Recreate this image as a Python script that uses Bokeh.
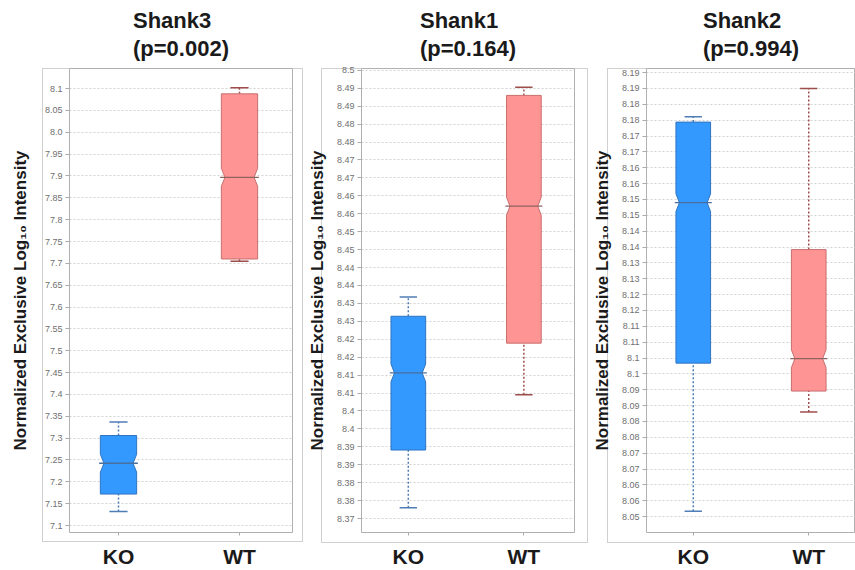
from bokeh.plotting import figure
from bokeh.models import Range1d, FixedTicker, ColumnDataSource
from bokeh.layouts import row
from bokeh.embed import file_html
from bokeh.resources import INLINE

# ---------------- data ----------------
categories = ["KO", "WT"]
y_title = "Normalized Exclusive Log\u2081\u2080 Intensity"

shank3_name = "Shank3"
shank3_p = "(p=0.002)"
shank3_low = [7.132, 7.705]
shank3_q1 = [7.172, 7.710]
shank3_median = [7.2425, 7.897]
shank3_q3 = [7.306, 8.088]
shank3_high = [7.337, 8.102]
shank3_notch = [0.0205, 0.0205]
shank3_ticks = [7.1, 7.15, 7.2, 7.25, 7.3, 7.35, 7.4, 7.45, 7.5, 7.55, 7.6,
                7.65, 7.7, 7.75, 7.8, 7.85, 7.9, 7.95, 8.0, 8.05, 8.1]
shank3_tick_labels = ["7.1", "7.15", "7.2", "7.25", "7.3", "7.35", "7.4", "7.45",
                      "7.5", "7.55", "7.6", "7.65", "7.7", "7.75", "7.8", "7.85",
                      "7.9", "7.95", "8.0", "8.05", "8.1"]
shank3_yrange = (7.084, 8.146)

shank1_name = "Shank1"
shank1_p = "(p=0.164)"
shank1_low = [8.378, 8.4095]
shank1_q1 = [8.3941, 8.4239]
shank1_median = [8.4156, 8.4621]
shank1_q3 = [8.4314, 8.4930]
shank1_high = [8.4368, 8.4953]
shank1_notch = [0.0025, 0.0025]
shank1_ticks = [8.375, 8.38, 8.385, 8.39, 8.395, 8.4, 8.405, 8.41, 8.415, 8.42,
                8.425, 8.43, 8.435, 8.44, 8.445, 8.45, 8.455, 8.46, 8.465, 8.47,
                8.475, 8.48, 8.485, 8.49, 8.495, 8.5]
shank1_tick_labels = ["8.37", "8.38", "8.38", "8.39", "8.39", "8.4", "8.4", "8.41",
                      "8.41", "8.42", "8.42", "8.43", "8.43", "8.44", "8.44", "8.45",
                      "8.45", "8.46", "8.46", "8.47", "8.47", "8.48", "8.48", "8.49",
                      "8.49", "8.5"]
shank1_yrange = (8.3711, 8.5005)

shank2_name = "Shank2"
shank2_p = "(p=0.994)"
shank2_low = [8.0517, 8.083]
shank2_q1 = [8.0984, 8.0896]
shank2_median = [8.149, 8.0998]
shank2_q3 = [8.1744, 8.1342]
shank2_high = [8.1761, 8.185]
shank2_notch = [0.0028, 0.0028]
shank2_ticks = [8.05, 8.055, 8.06, 8.065, 8.07, 8.075, 8.08, 8.085, 8.09, 8.095,
                8.1, 8.105, 8.11, 8.115, 8.12, 8.125, 8.13, 8.135, 8.14, 8.145,
                8.15, 8.155, 8.16, 8.165, 8.17, 8.175, 8.18, 8.185, 8.19]
shank2_tick_labels = ["8.05", "8.06", "8.06", "8.07", "8.07", "8.08", "8.08", "8.09",
                      "8.09", "8.1", "8.1", "8.11", "8.11", "8.12", "8.12", "8.13",
                      "8.13", "8.14", "8.14", "8.15", "8.15", "8.16", "8.16", "8.17",
                      "8.17", "8.18", "8.18", "8.19", "8.19"]
shank2_yrange = (8.045, 8.1913)

# ---------------- style ----------------
FILL = ["#3399FF", "#FF9494"]
EDGE = ["#2F74C0", "#C86E6E"]
WHISK = ["#4F7DB5", "#9E4D4D"]
MED = ["#4A6F9E", "#8F6262"]
FONT = "Liberation Sans"
FRAME_COLOR = "#d0d0d0"
BOX_W = 0.30
CAP_W = 0.15
NOTCH_IN = 0.03


def frame_css(l, r, t, b):
    w, h = r - l, b - t
    g = f"linear-gradient({FRAME_COLOR}, {FRAME_COLOR})"
    return {
        "background-color": "white",
        "background-image": ", ".join([g] * 4),
        "background-size": f"1px {h + 1}px, 1px {h + 1}px, {w + 1}px 1px, {w + 1}px 1px",
        "background-position": f"{l}px {t}px, {r}px {t}px, {l}px {t}px, {l}px {b}px",
        "background-repeat": "no-repeat",
    }


def panel(name, pval, low, q1, med, q3, high, notch, ticks, tick_labels, yr,
          width, border_left, border_right, xr_end, label_standoff, frame_box):
    p = figure(width=width, height=570, output_backend="svg", toolbar_location=None,
               x_range=Range1d(-0.405, xr_end), y_range=Range1d(*yr),
               min_border_left=border_left, min_border_right=border_right,
               min_border_top=68, min_border_bottom=35,
               title=name + "\n" + pval)
    p.title.align = "center"
    p.title.vertical_align = "top"
    p.title.text_font = FONT
    p.title.text_font_size = "22px"
    p.title.text_font_style = "bold"
    p.title.text_color = "#1a1a1a"
    p.title.text_line_height = 1.15
    p.title.standoff = 10

    p.background_fill_color = "white"
    p.border_fill_color = None
    p.styles = frame_css(*frame_box)
    p.outline_line_color = "#b0b0b0"
    p.outline_line_width = 1

    p.xgrid.visible = False
    p.ygrid.grid_line_color = "#d2d2d2"
    p.ygrid.grid_line_dash = "2 2"
    p.ygrid.ticker = FixedTicker(ticks=ticks)

    # y axis
    ya = p.yaxis[0]
    ya.ticker = FixedTicker(ticks=ticks)
    ya.major_label_overrides = {t: s for t, s in zip(ticks, tick_labels)}
    ya.major_label_text_font = FONT
    ya.major_label_text_font_size = "9px"
    ya.major_label_text_color = "#707070"
    ya.major_label_standoff = 3
    ya.major_tick_out = 4
    ya.major_tick_in = 0
    ya.major_tick_line_color = "#aaaaaa"
    ya.minor_tick_line_color = None
    ya.axis_line_color = None
    ya.axis_label = y_title
    ya.axis_label_text_font = FONT
    ya.axis_label_text_font_size = "17px"
    ya.axis_label_text_font_style = "bold"
    ya.axis_label_text_color = "#1a1a1a"
    ya.axis_label_standoff = label_standoff

    # x axis
    xa = p.xaxis[0]
    xa.ticker = FixedTicker(ticks=list(range(len(categories))))
    xa.major_label_overrides = {i: c for i, c in enumerate(categories)}
    xa.major_label_text_font = FONT
    xa.major_label_text_font_size = "21px"
    xa.major_label_text_font_style = "bold"
    xa.major_label_text_color = "#1a1a1a"
    xa.major_label_standoff = 9
    xa.major_tick_out = 3
    xa.major_tick_in = 0
    xa.major_tick_line_color = "#aaaaaa"
    xa.minor_tick_line_color = None
    xa.axis_line_color = None

    xs = list(range(len(categories)))
    hw = BOX_W / 2
    # whiskers (dotted)
    wsrc = ColumnDataSource(dict(x=xs, low=low, q1=q1, q3=q3, high=high, c=WHISK,
                                 cl=[x - CAP_W / 2 for x in xs],
                                 cr=[x + CAP_W / 2 for x in xs]))
    p.segment(x0="x", y0="q3", x1="x", y1="high", source=wsrc, line_color="c",
              line_width=1.5, line_dash="2 2")
    p.segment(x0="x", y0="low", x1="x", y1="q1", source=wsrc, line_color="c",
              line_width=1.5, line_dash="2 2")
    p.segment(x0="cl", y0="high", x1="cr", y1="high", source=wsrc, line_color="c",
              line_width=1.5)
    p.segment(x0="cl", y0="low", x1="cr", y1="low", source=wsrc, line_color="c",
              line_width=1.5)

    # notched boxes
    pxs, pys = [], []
    for x, a, m, b, n in zip(xs, q1, med, q3, notch):
        pxs.append([x - hw, x + hw, x + hw, x + hw - NOTCH_IN, x + hw, x + hw,
                    x - hw, x - hw, x - hw + NOTCH_IN, x - hw])
        pys.append([a, a, m - n, m, m + n, b, b, m + n, m, m - n])
    bsrc = ColumnDataSource(dict(xs=pxs, ys=pys, f=FILL, e=EDGE))
    p.patches(xs="xs", ys="ys", source=bsrc, fill_color="f", line_color="e",
              line_width=1)

    # medians
    msrc = ColumnDataSource(dict(x0=[x - hw - 0.01 for x in xs],
                                 x1=[x + hw + 0.01 for x in xs], y=med, c=MED))
    p.segment(x0="x0", y0="y", x1="x1", y1="y", source=msrc, line_color="c",
              line_width=1.3)
    return p


p1 = panel(shank3_name, shank3_p, shank3_low, shank3_q1, shank3_median, shank3_q3,
           shank3_high, shank3_notch, shank3_ticks, shank3_tick_labels, shank3_yrange,
           width=304, border_left=69, border_right=12, xr_end=1.438,
           label_standoff=12, frame_box=(42, 302, 68, 541))
p2 = panel(shank1_name, shank1_p, shank1_low, shank1_q1, shank1_median, shank1_q3,
           shank1_high, shank1_notch, shank1_ticks, shank1_tick_labels, shank1_yrange,
           width=285, border_left=47, border_right=15, xr_end=1.438,
           label_standoff=7, frame_box=(17, 283, 68, 542))
p3 = panel(shank2_name, shank2_p, shank2_low, shank2_q1, shank2_median, shank2_q3,
           shank2_high, shank2_notch, shank2_ticks, shank2_tick_labels, shank2_yrange,
           width=266, border_left=47, border_right=0, xr_end=1.405,
           label_standoff=7, frame_box=(18, 300, 68, 542))

layout = row(p1, p2, p3, spacing=0)
open("out.html", "w").write(file_html(layout, INLINE))
